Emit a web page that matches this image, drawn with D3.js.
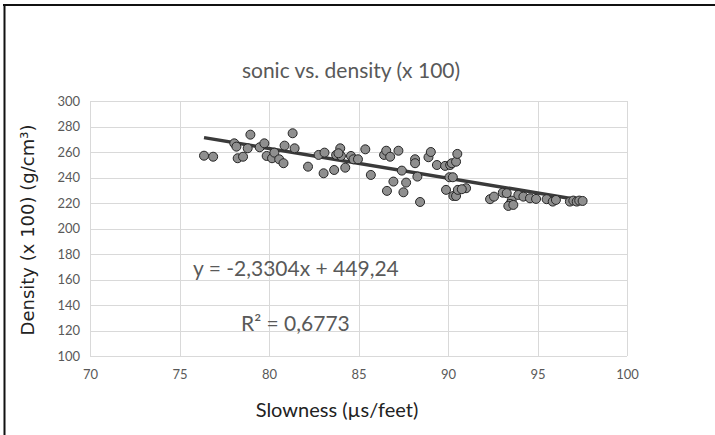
<!DOCTYPE html>
<html>
<head>
<meta charset="utf-8">
<script src="https://cdn.jsdelivr.net/npm/d3@7"></script>
<style>
  body { margin: 0; background: #ffffff; }
  svg { display: block; }
</style>
</head>
<body>
<div id="canvas"></div>
<script>
"use strict";

// sonic slowness (µs/feet)
let slowness = [
    76.37, 76.88, 78.06, 78.18, 78.25, 78.55, 78.81, 78.96, 79.48, 79.74,
    79.87, 80.17, 80.30, 80.57, 80.81, 81.32, 80.87, 81.43, 82.18, 82.77,
    83.05, 83.10, 83.64, 83.75, 83.98, 84.02, 83.88, 84.26, 84.58, 84.72,
    84.97, 85.38, 85.69, 86.43, 86.55, 86.77, 87.23, 86.59, 86.95, 87.42,
    87.51, 87.66, 88.16, 88.16, 88.29, 88.44, 88.91, 89.04, 89.38, 89.84,
    90.12, 90.21, 90.45, 90.52, 90.08, 90.27, 89.89, 90.30, 90.45, 90.55,
    91.01, 90.77, 92.35, 92.57, 93.06, 93.28, 93.56, 93.47, 93.37, 93.65,
    93.93, 94.21, 94.58, 94.92, 95.51, 95.85, 96.03, 96.81, 97.00, 97.19,
    97.33, 97.52
];

// density (x 100), same order
let density = [
    257.1, 256.3, 266.8, 264.2, 255.1, 256.3, 262.9, 273.6, 263.7, 266.8,
    256.9, 255.1, 259.5, 254.3, 251.2, 274.7, 265.0, 262.9, 248.5, 257.7,
    243.3, 259.5, 245.9, 257.7, 262.9, 256.9, 259.0, 247.7, 256.9, 254.3,
    254.3, 262.1, 242.0, 257.7, 261.0, 256.3, 261.0, 229.5, 236.8, 245.4,
    228.4, 236.0, 254.3, 251.2, 240.7, 220.8, 255.9, 260.0, 249.8, 249.1,
    249.8, 251.2, 252.4, 258.5, 240.2, 240.2, 230.3, 225.5, 225.5, 230.3,
    231.6, 230.8, 223.0, 225.0, 228.1, 227.7, 221.9, 219.3, 217.7, 218.5,
    226.3, 225.0, 223.7, 223.2, 223.0, 221.1, 222.4, 221.1, 221.9, 221.1,
    221.9, 221.6
];

let xTicks = [70, 75, 80, 85, 90, 95, 100];
let yTicks = [100, 120, 140, 160, 180, 200, 220, 240, 260, 280, 300];

// linear trendline shown on the chart
let slope = -2.3304;
let intercept = 449.24;

let titleText = "sonic vs. density (x 100)";
let xTitle = "Slowness (\u00b5s/feet)";
let yTitle = "Density (x 100) (g/cm\u00b3)";
let eqText = "y = -2,3304x + 449,24";
let r2Text = "R\u00b2 = 0,6773";

let svgWidth = 715;
let svgHeight = 435;
let plot = { left: 90, right: 627, top: 101, bottom: 356 };
let labelFont = "Lato, 'Open Sans', sans-serif";
let textGrey = "#595959";

let svg = d3.select("#canvas")
    .append("svg")
    .attr("width", svgWidth)
    .attr("height", svgHeight);

svg.append("rect")
    .attr("width", svgWidth)
    .attr("height", svgHeight)
    .attr("fill", "#ffffff");

// outer frame (only top and left edges are visible in the crop)
svg.append("line")
    .attr("x1", 3).attr("x2", svgWidth)
    .attr("y1", 5).attr("y2", 5)
    .attr("stroke", "#111").attr("stroke-width", 2);
svg.append("line")
    .attr("x1", 4.5).attr("x2", 4.5)
    .attr("y1", 4).attr("y2", svgHeight)
    .attr("stroke", "#111").attr("stroke-width", 2);

let xScale = d3.scaleLinear()
    .domain([70, 100])
    .range([plot.left, plot.right]);

let yScale = d3.scaleLinear()
    .domain([100, 300])
    .range([plot.bottom, plot.top]);

// gridlines
svg.append("g")
    .selectAll("line")
    .data(xTicks)
    .join("line")
    .attr("x1", d => Math.round(xScale(d)) + 0.5)
    .attr("x2", d => Math.round(xScale(d)) + 0.5)
    .attr("y1", plot.top)
    .attr("y2", plot.bottom)
    .attr("stroke", "#d9d9d9");

svg.append("g")
    .selectAll("line")
    .data(yTicks)
    .join("line")
    .attr("x1", plot.left)
    .attr("x2", plot.right)
    .attr("y1", d => Math.round(yScale(d)) + 0.5)
    .attr("y2", d => Math.round(yScale(d)) + 0.5)
    .attr("stroke", "#d9d9d9");

// axes, tick text only
let xAxis = svg.append("g")
    .attr("transform", "translate(0," + (plot.bottom + 8) + ")")
    .call(d3.axisBottom(xScale).tickValues(xTicks).tickSize(0).tickPadding(6));
let yAxis = svg.append("g")
    .attr("transform", "translate(" + (plot.left - 10) + ",0)")
    .call(d3.axisLeft(yScale).tickValues(yTicks).tickSize(0).tickPadding(0));

[xAxis, yAxis].forEach(function(ax) {
    ax.select(".domain").remove();
    ax.selectAll("text")
        .style("font-family", labelFont)
        .style("font-size", "13px")
        .attr("fill", textGrey);
});

// trendline
let xExtent = d3.extent(slowness);
svg.append("line")
    .attr("x1", xScale(xExtent[0]))
    .attr("y1", yScale(slope * xExtent[0] + intercept))
    .attr("x2", xScale(xExtent[1]))
    .attr("y2", yScale(slope * xExtent[1] + intercept))
    .attr("stroke", "#3a3a3a")
    .attr("stroke-width", 3.5);

// points
svg.append("g")
    .selectAll("circle")
    .data(slowness)
    .join("circle")
    .attr("cx", d => xScale(d))
    .attr("cy", (d, i) => yScale(density[i]))
    .attr("r", 4.5)
    .attr("fill", "#8f8f8f")
    .attr("stroke", "#262626")
    .attr("stroke-width", 1);

// titles
svg.append("text")
    .attr("x", 351)
    .attr("y", 78)
    .attr("text-anchor", "middle")
    .style("font-family", labelFont)
    .style("font-size", "21px")
    .attr("fill", textGrey)
    .text(titleText);

svg.append("text")
    .attr("x", 337)
    .attr("y", 417)
    .attr("text-anchor", "middle")
    .style("font-family", labelFont)
    .style("font-size", "20px")
    .attr("fill", "#222")
    .text(xTitle);

svg.append("text")
    .attr("transform", "translate(34," + 230 + ") rotate(-90)")
    .attr("text-anchor", "middle")
    .style("font-family", "'DejaVu Sans', sans-serif")
    .style("font-size", "18px")
    .attr("fill", "#222")
    .text(yTitle);

// trendline equation labels
svg.append("text")
    .attr("x", 193)
    .attr("y", 276)
    .style("font-family", labelFont)
    .style("font-size", "21px")
    .attr("fill", textGrey)
    .text(eqText);

svg.append("text")
    .attr("x", 241)
    .attr("y", 331)
    .style("font-family", labelFont)
    .style("font-size", "21px")
    .attr("fill", textGrey)
    .text(r2Text);
</script>
</body>
</html>
